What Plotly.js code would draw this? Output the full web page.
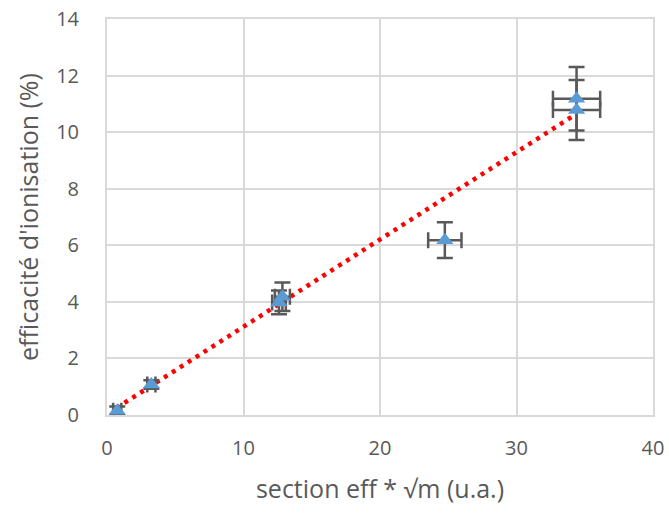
<!DOCTYPE html>
<html>
<head>
<meta charset="utf-8">
<script src="https://cdn.plot.ly/plotly-3.0.1.min.js"></script>
<style>html,body{margin:0;padding:0;background:#fff;}#chart{width:669px;height:516px;}</style>
</head>
<body>
<div id="chart"></div>
<script>
// Data
const xVals = [0.75, 3.25, 12.6, 12.85, 24.75, 34.4, 34.4];
const yVals = [0.15, 1.08, 3.98, 4.18, 6.18, 11.18, 10.78];
const xErr  = [0.3, 0.3, 0.5, 0.55, 1.22, 1.73, 1.73];
const yErr  = [0.15, 0.15, 0.42, 0.5, 0.63, 1.12, 1.06];
const trendX = [0.7, 34.4];
const trendY = [0.25, 10.65];
const xTitle = "section eff * \u221am (u.a.)";
const yTitle = "efficacité d'ionisation (%)";

const font = "Open Sans, Noto Sans, sans-serif";
const grey = "#595959";

const traces = [
  {
    x: trendX, y: trendY, type: "scatter", mode: "lines",
    line: {color: "#ff0000", width: 4.5, dash: "4px,5.4px"},
    hoverinfo: "skip", showlegend: false
  },
  {
    x: xVals, y: yVals, type: "scatter", mode: "markers",
    marker: {symbol: "triangle-up", size: 15, color: "#5b9bd5"},
    error_x: {type: "data", array: xErr, visible: true, color: grey, thickness: 2.5, width: 8},
    error_y: {type: "data", array: yErr, visible: true, color: grey, thickness: 2.5, width: 8},
    showlegend: false
  }
];

const layout = {
  width: 669, height: 516,
  margin: {l: 107, r: 16, t: 19, b: 101},
  paper_bgcolor: "#fff", plot_bgcolor: "#fff",
  font: {family: font, color: grey, size: 20},
  xaxis: {
    range: [0, 40], dtick: 10, tick0: 0,
    showgrid: true, gridcolor: "#d9d9d9", gridwidth: 2,
    showline: true, linecolor: "#d9d9d9", linewidth: 2, mirror: true,
    zeroline: false, ticks: "outside", ticklen: 14, tickcolor: "rgba(0,0,0,0)",
    tickfont: {family: font, size: 20, color: grey},
    title: {text: xTitle, font: {family: font, size: 25, color: grey}, standoff: 20}
  },
  yaxis: {
    range: [0, 14], dtick: 2, tick0: 0,
    showgrid: true, gridcolor: "#d9d9d9", gridwidth: 2,
    showline: true, linecolor: "#d9d9d9", linewidth: 2, mirror: true,
    zeroline: false, ticks: "outside", ticklen: 22, tickcolor: "rgba(0,0,0,0)",
    tickfont: {family: font, size: 20, color: grey},
    title: {text: yTitle, font: {family: font, size: 25, color: grey}, standoff: 10}
  }
};

Plotly.newPlot("chart", traces, layout, {displayModeBar: false, staticPlot: true});
</script>
</body>
</html>
